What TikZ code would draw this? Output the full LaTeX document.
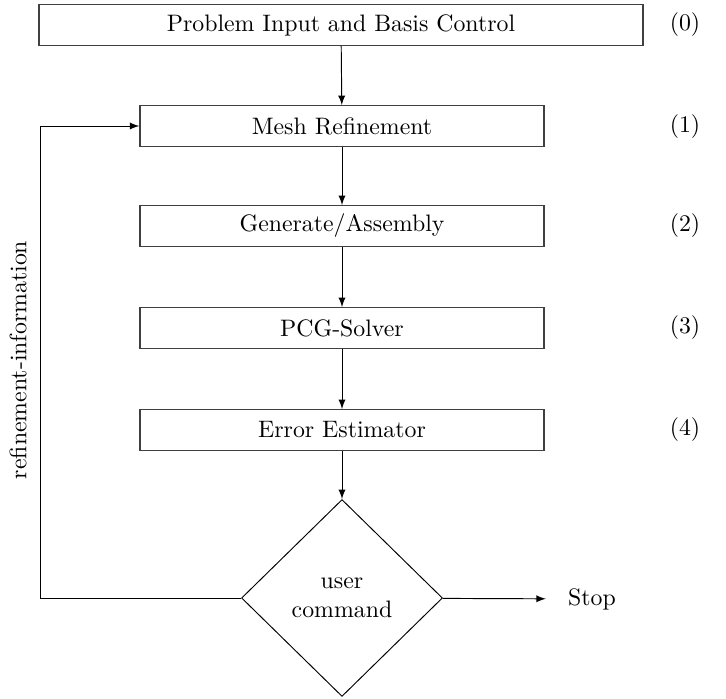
\documentclass[tikz,border=0pt]{standalone}
\usetikzlibrary{shapes.geometric,arrows}
\begin{document}
\begin{tikzpicture}[x=.42pt,y=-.42pt,>=latex,
	stepbox/.style={draw=black!75,line width=.55pt,minimum height=17pt,inner sep=0pt},
	choice/.style={draw,shape=diamond,minimum width=84.4pt,minimum height=82.7pt,inner sep=0pt,align=center}]
\useasboundingbox (0,0) rectangle (726,699);
\node[stepbox,minimum width=253.7pt] (input) at (341,25) {Problem Input and Basis Control};
\node[stepbox,minimum width=169.7pt] (mesh) at (342,126) {Mesh Refinement};
\node[stepbox,minimum width=169.7pt] (assembly) at (342,226) {Generate/Assembly};
\node[stepbox,minimum width=169.7pt] (solver) at (342,328) {PCG-Solver};
\node[stepbox,minimum width=169.7pt] (estimator) at (342,430) {Error Estimator};
\node[choice] (user) at (342,598) {user\\command};
\node[inner xsep=9.2pt] (stop) at (592,599) {Stop};
\coordinate (corner1) at (40,598);
\coordinate (corner2) at (40,126);
\foreach \y/\k in {25/0,127/1,226/2,328/3,430/4}
	\node (label\k) at (685,\y) {(\k)};
\draw[->] (input) -- (mesh);
\draw[->] (mesh) -- (assembly);
\draw[->] (assembly) -- (solver);
\draw[->] (solver) -- (estimator);
\draw[->] (estimator) -- (user);
\draw[->] (user) -- (stop);
\draw[->] (user.west) -- (corner1) -- (corner2) -- (mesh.west);
\node[rotate=90] (info) at (18,360) {refinement-information};
\end{tikzpicture}
\end{document}
